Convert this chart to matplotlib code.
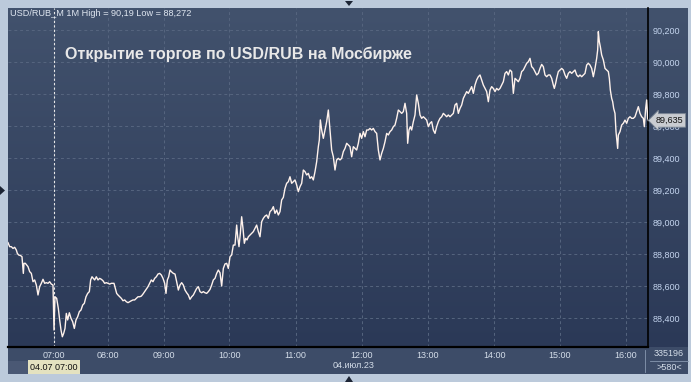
import numpy as np
import matplotlib.pyplot as plt
from matplotlib.colors import LinearSegmentedColormap
from matplotlib.patches import Polygon, Rectangle
from matplotlib.lines import Line2D
from matplotlib.ticker import FuncFormatter
import matplotlib.transforms as mtransforms

plt.rcParams['font.family'] = ['Liberation Sans', 'DejaVu Sans']

# bar position (chart bar units) and price of USD/RUB_M, 1-minute bars, 04.07.23
bars = [0, 5, 10, 15, 20, 25, 28, 32, 38, 42, 46, 48, 52, 56, 60, 65, 70, 75, 80, 85,
        90, 95, 100, 105, 110, 115, 120, 125, 130, 135, 138, 141, 146, 151, 155, 159, 163, 167, 171, 175,
        179, 184, 189, 194, 199, 204, 209, 214, 219, 224, 229, 234, 239, 244, 248, 252, 256, 260, 265, 270,
        275, 280, 285, 290, 295, 300, 305, 310, 318, 322, 326, 330, 335, 340, 345, 350, 355, 360, 365, 370,
        375, 380, 385, 390, 395, 400, 405, 410, 415, 420, 425, 430, 435, 440, 445, 450, 455, 460, 465, 470,
        474, 478, 482, 486, 490,
        496, 501, 506, 511, 516, 521, 526, 531, 536, 541, 546, 551, 556, 561, 566, 571, 576, 581, 586, 591,
        596, 601, 606, 611, 616, 621, 626, 631, 636, 641, 646, 651, 656, 661, 666, 671, 676, 681, 686, 689,
        693, 697, 701, 705, 709, 713, 717, 721, 726, 731, 736, 741, 746, 751, 756, 761, 766, 771, 776, 781,
        786, 791, 796, 801, 806, 811, 816, 821, 826, 831, 836, 841, 846, 851, 856, 861, 866, 871, 876, 881,
        886, 891, 896, 901, 906, 911, 916, 921, 926, 931, 934, 937, 941, 946, 951,
        956, 961, 966, 971, 976, 981, 986, 991, 996, 1001, 1006, 1011, 1016, 1021, 1026, 1031, 1036, 1041, 1046, 1051,
        1056, 1061, 1066, 1071, 1076, 1081, 1086, 1091, 1096, 1101, 1106, 1111, 1116, 1121, 1126, 1131, 1136, 1141, 1146, 1151,
        1156, 1161, 1166, 1171, 1176, 1181, 1186, 1191, 1196, 1199, 1203, 1207, 1211, 1216, 1221, 1226, 1231, 1236, 1241, 1246,
        1251, 1256, 1261, 1266, 1271, 1276, 1281, 1286, 1291, 1296, 1301, 1306, 1311, 1316, 1321, 1326, 1331, 1336, 1341, 1346,
        1351, 1356, 1361, 1366, 1371, 1376, 1381, 1386, 1391, 1396, 1401, 1406, 1411, 1416, 1421, 1426,
        1431, 1436, 1441, 1446, 1451, 1456, 1461, 1466, 1471, 1476, 1481, 1486, 1491, 1496, 1501, 1506, 1511, 1516, 1521, 1526,
        1531, 1536, 1541, 1546, 1551, 1556, 1561, 1566, 1571, 1576, 1581, 1586, 1591, 1596, 1601, 1606, 1611, 1616, 1621, 1626,
        1631, 1636, 1639, 1643, 1646, 1651, 1656, 1661, 1666, 1671, 1676, 1681, 1686, 1691, 1696, 1701, 1706, 1711, 1716, 1721,
        1726, 1731, 1736, 1741, 1746, 1751, 1756, 1761, 1766, 1769, 1771, 1774, 1777, 1781, 1786, 1791, 1796, 1801, 1804, 1807,
        1811, 1814, 1817, 1821, 1824, 1827, 1829, 1831, 1836, 1841, 1846, 1851, 1856, 1861, 1866, 1871, 1876, 1881, 1886, 1891,
        1896, 1901, 1906, 1909, 1913, 1916, 1919, 1921]

prices = [88.871, 88.846, 88.846, 88.835, 88.842, 88.825, 88.804, 88.794, 88.790, 88.783, 88.679, 88.742, 88.742, 88.731, 88.721, 88.690, 88.679, 88.627, 88.638, 88.606,
          88.544, 88.596, 88.617, 88.642, 88.617, 88.621, 88.617, 88.627, 88.612, 88.606, 88.325, 88.533, 88.523, 88.460, 88.388, 88.325, 88.283, 88.304, 88.335, 88.429,
          88.388, 88.433, 88.398, 88.377, 88.335, 88.388, 88.408, 88.440, 88.450, 88.481, 88.492, 88.533, 88.554, 88.565, 88.638, 88.658, 88.648, 88.638, 88.658, 88.638,
          88.648, 88.642, 88.633, 88.617, 88.621, 88.617, 88.612, 88.617, 88.617, 88.585, 88.554, 88.544, 88.533, 88.523, 88.508, 88.513, 88.502, 88.496, 88.502, 88.508,
          88.513, 88.513, 88.523, 88.533, 88.533, 88.537, 88.550, 88.565, 88.579, 88.596, 88.617, 88.638, 88.627, 88.648, 88.658, 88.675, 88.679, 88.669, 88.648, 88.617,
          88.554, 88.638, 88.658, 88.700, 88.690,
          88.679, 88.675, 88.627, 88.575, 88.606, 88.621, 88.606, 88.575, 88.558, 88.544, 88.517, 88.533, 88.544, 88.565, 88.585, 88.596, 88.565, 88.558, 88.565, 88.558,
          88.554, 88.565, 88.579, 88.606, 88.638, 88.648, 88.679, 88.700, 88.683, 88.600, 88.710, 88.738, 88.742, 88.710, 88.783, 88.794, 88.856, 88.856, 88.981, 88.908,
          88.846, 88.929, 89.033, 88.960, 88.867, 88.898, 88.888, 88.908, 88.919, 88.929, 88.940, 88.960, 88.981, 88.940, 88.908, 89.002, 89.023, 89.037, 89.044, 89.023,
          89.065, 89.075, 89.096, 89.054, 89.075, 89.044, 89.065, 89.138, 89.154, 89.210, 89.242, 89.252, 89.283, 89.242, 89.252, 89.263, 89.231, 89.190, 89.221, 89.242,
          89.325, 89.315, 89.294, 89.304, 89.273, 89.283, 89.263, 89.315, 89.377, 89.471, 89.513, 89.638, 89.575, 89.523, 89.575,
          89.627, 89.700, 89.575, 89.450, 89.408, 89.325, 89.388, 89.398, 89.388, 89.398, 89.440, 89.460, 89.492, 89.481, 89.471, 89.408, 89.471, 89.460, 89.450, 89.492,
          89.554, 89.523, 89.565, 89.533, 89.575, 89.575, 89.585, 89.575, 89.585, 89.565, 89.554, 89.450, 89.388, 89.429, 89.460, 89.502, 89.554, 89.544, 89.565, 89.575,
          89.596, 89.606, 89.648, 89.700, 89.690, 89.679, 89.690, 89.742, 89.679, 89.492, 89.575, 89.596, 89.575, 89.627, 89.669, 89.794, 89.742, 89.669, 89.648, 89.658,
          89.648, 89.637, 89.596, 89.617, 89.627, 89.575, 89.554, 89.596, 89.627, 89.648, 89.658, 89.679, 89.669, 89.658, 89.669, 89.658, 89.669, 89.679, 89.731, 89.742,
          89.679, 89.710, 89.731, 89.773, 89.794, 89.815, 89.804, 89.825, 89.846, 89.804, 89.856, 89.888, 89.908, 89.919, 89.888, 89.856,
          89.835, 89.815, 89.752, 89.825, 89.846, 89.835, 89.815, 89.835, 89.825, 89.835, 89.856, 89.877, 89.929, 89.940, 89.919, 89.950, 89.940, 89.804, 89.898, 89.888,
          89.877, 89.898, 89.940, 89.950, 89.971, 89.992, 90.002, 90.023, 89.971, 89.960, 89.940, 89.919, 89.929, 89.960, 89.985, 89.971, 89.919, 89.908, 89.919, 89.919,
          89.898, 89.856, 89.835, 89.867, 89.898, 89.940, 89.950, 89.960, 89.950, 89.919, 89.898, 89.929, 89.940, 89.929, 89.940, 89.950, 89.919, 89.908, 89.919, 89.908,
          89.919, 89.929, 89.981, 89.992, 89.981, 89.960, 89.908, 89.960, 90.023, 90.075, 90.190, 90.127, 90.096, 90.044, 90.013, 89.960, 89.950, 89.940, 89.898, 89.825,
          89.773, 89.752, 89.710, 89.679, 89.565, 89.502, 89.460, 89.544, 89.565, 89.606, 89.617, 89.637, 89.617, 89.648, 89.658, 89.648, 89.648, 89.658, 89.690, 89.721,
          89.679, 89.658, 89.648, 89.596, 89.710, 89.763, 89.648, 89.635]

hour_pos = [139, 301, 469, 664, 863, 1061, 1259, 1459, 1656, 1854]
hour_labels = ['07:00', '08:00', '09:00', '10:00', '11:00', '12:00', '13:00', '14:00', '15:00', '16:00']
price_ticks = [88.4, 88.6, 88.8, 89.0, 89.2, 89.4, 89.6, 89.8, 90.0, 90.2]
last_price = 89.635

W, H = 691, 382


def fx(px):
    return px / W


def fy(py):
    return 1 - py / H


fig = plt.figure(figsize=(6.91, 3.82), dpi=100)
fig.patch.set_facecolor('#bccadb')

# gradient background behind plot and price scale
bg = fig.add_axes([fx(8), fy(347), 680 / W, 339 / H])
grad = LinearSegmentedColormap.from_list('bg', ['#2b3957', '#42526d'])
bg.imshow(np.linspace(0, 1, 256).reshape(-1, 1), cmap=grad, origin='lower',
          aspect='auto', extent=[0, 1, 0, 1])
bg.axis('off')

# bottom time strip
strip = fig.add_axes([fx(8), fy(374), 680 / W, 27 / H])
strip.set_facecolor('#3d4c68')
strip.set_xticks([])
strip.set_yticks([])
for s in strip.spines.values():
    s.set_visible(False)
fig.add_artist(Rectangle((fx(8), fy(374)), 20 / W, 13 / H, transform=fig.transFigure,
                         fc='#4a5874', ec='none'))

ax = fig.add_axes([fx(8), fy(347), 640 / W, 339 / H])
ax.set_facecolor('none')
ax.set_xlim(0, 1920)
ax.set_ylim(88.219, 90.3375)
for side in ['top', 'left']:
    ax.spines[side].set_visible(False)
ax.spines['right'].set_color('black')
ax.spines['right'].set_linewidth(1.2)
ax.spines['bottom'].set_color('black')
ax.spines['bottom'].set_linewidth(1.6)

ax.set_xticks(hour_pos)
ax.set_xticklabels(hour_labels)
ax.set_yticks(price_ticks)
ax.yaxis.tick_right()
ax.yaxis.set_major_formatter(FuncFormatter(lambda v, p: f'{v:.3f}'.replace('.', ',')))
ax.tick_params(axis='x', length=0, pad=3, labelsize=6.5, labelcolor='#d4dde9')
ax.tick_params(axis='y', length=0, pad=3, labelsize=6.5, labelcolor='#c4d4ee')
ax.grid(color='#56657f', linestyle=(0, (3, 3)), linewidth=0.7)

ax.axvline(hour_pos[0], color='#e8e8e8', linestyle=(0, (2, 2)), linewidth=0.8, zorder=2)
ax.plot(bars, prices, color='#fff2ec', linewidth=1.0, zorder=3, clip_on=True)

trans = mtransforms.blended_transform_factory(ax.transAxes, ax.transData)
ax.text(1.012, last_price, '89,635', transform=trans, ha='left', va='center', fontsize=6.5,
        color='#111111', zorder=5,
        bbox=dict(boxstyle='larrow,pad=0.25', fc='#c9ccd1', ec='#7d8896', lw=0.6))

fig.text(fx(10), fy(14), 'USD/RUB_M 1M High = 90,19 Low = 88,272', fontsize=6.6,
         color='#dfe6f0', va='center')
fig.text(fx(65), fy(54), 'Открытие торгов по USD/RUB на Мосбирже', fontsize=11.5,
         fontweight='bold', color='#e8e8e8', va='center')

fig.text(fx(54), fy(367), '04.07 07:00', fontsize=6.5, color='#111111', ha='center', va='center',
         bbox=dict(boxstyle='square,pad=0.25', fc='#e4e2c0', ec='none'))
fig.text(fx(354), fy(366), '04.июл.23', fontsize=6.5, color='#d4dde9', ha='center', va='center')
fig.text(fx(669), fy(354), '335196', fontsize=6.5, color='#d4dde9', ha='center', va='center')
fig.text(fx(669), fy(368), '>580<', fontsize=6.5, color='#d4dde9', ha='center', va='center')
fig.add_artist(Line2D([fx(650), fx(688)], [fy(361), fy(361)], color='#8898b0', lw=0.6))
fig.add_artist(Line2D([fx(645), fx(645)], [fy(350), fy(372)], color='#8898b0', lw=0.6))

# small frame markers
for pts in [[(345, 1), (353, 1), (349, 6)],
            [(0, 186), (0, 195), (5, 190.5)],
            [(345, 382), (353, 382), (349, 376)]]:
    fig.add_artist(Polygon([(fx(a), fy(b)) for a, b in pts], closed=True,
                           transform=fig.transFigure, fc='#1c2434', ec='none'))

fig.savefig('out.png', dpi=100, facecolor=fig.get_facecolor())
